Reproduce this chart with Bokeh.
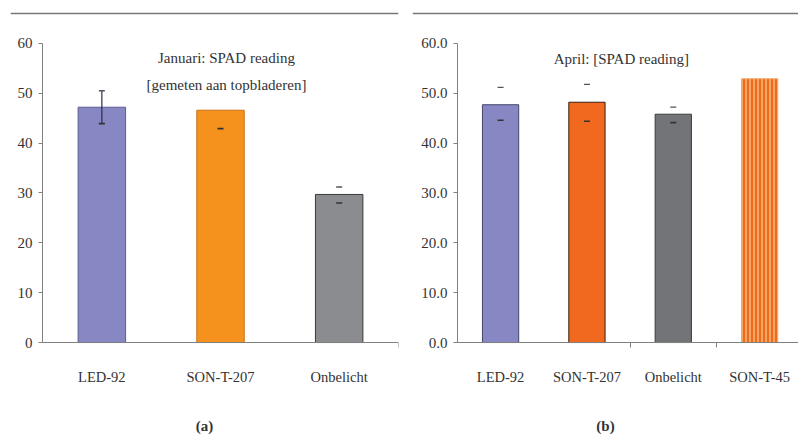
from bokeh.plotting import figure
from bokeh.models import (ColumnDataSource, Range1d, LinearAxis, FixedTicker, Span, Label,
                          PrintfTickFormatter, BasicTickFormatter)
from bokeh.layouts import row
from bokeh.embed import file_html
from bokeh.resources import INLINE

nan = float("nan")

# ---------------- data ----------------
jan_categories = ["LED-92", "SON-T-207", "Onbelicht"]
jan_values = [47.2, 46.6, 29.7]
jan_err_low = [43.9, 42.9, 28.0]
jan_err_high = [50.5, nan, 31.2]

apr_categories = ["LED-92", "SON-T-207", "Onbelicht", "SON-T-45"]
apr_values = [47.7, 48.2, 45.8, 52.9]
apr_err_low = [44.6, 44.4, 44.1, nan]
apr_err_high = [51.2, 51.8, 47.2, nan]

y_ticks = [0, 10, 20, 30, 40, 50, 60]

jan_title = ["Januari: SPAD reading", "[gemeten aan topbladeren]"]
apr_title = ["April:  [SPAD reading]"]
panel_labels = ["(a)", "(b)"]

# ---------------- styles ----------------
jan_fill = ["#8787c4", "#f5921e", "#8b8c90"]
jan_line = ["#5c5c94", "#c8741a", "#3a3a3a"]
apr_fill = ["#8787c4", "#f0691e", "#727478", "#f5a565"]
apr_line = ["#44446a", "#3a2010", "#3a3a3a", "#f5a565"]
apr_hatch = [" ", " ", " ", "|"]

FONT = "Liberation Serif"
TXT = "#333333"
AXC = "#808080"
H = 437


def make_panel(width, x_start, x_end, bl, br, cats, vals, lo, hi, fills, lines, hatch,
               bar_w, fmt, boundary_ticks, titles, title_x, title_y, plabel,
               whisker_idx):
    p = figure(width=width, height=H, x_range=Range1d(x_start, x_end),
               y_range=Range1d(-2.2, 66.4), output_backend="svg", toolbar_location=None,
               x_axis_location=None, y_axis_location=None,
               min_border_left=bl, min_border_right=br, min_border_top=11,
               min_border_bottom=84)
    p.grid.grid_line_color = None
    p.outline_line_color = None
    p.background_fill_color = "white"
    p.border_fill_color = "white"

    xs = list(range(1, len(cats) + 1))
    src = ColumnDataSource(dict(x=xs, top=vals, fill=fills, line=lines, hatch=hatch,
                                lo=lo, hi=hi))
    p.vbar(x="x", top="top", bottom=0, width=bar_w, source=src, fill_color="fill",
           line_color="line", line_width=1, hatch_pattern="hatch",
           hatch_color="#ee6412", hatch_scale=4, hatch_weight=1.8)

    for i in whisker_idx:
        p.segment(x0=[xs[i]], y0=[lo[i]], x1=[xs[i]], y1=[hi[i]],
                  line_color="#2a2a50", line_width=1.2)
    p.scatter(x="x", y="lo", source=src, marker="dash", size=6, line_color="#333333",
              line_width=1.6)
    p.scatter(x="x", y="hi", source=src, marker="dash", size=6, line_color="#555555",
              line_width=1.3)

    p.add_layout(Span(location=66.0, dimension="width", line_color="#777777",
                      line_width=1.6))

    yaxis = LinearAxis(fixed_location=0.5, ticker=FixedTicker(ticks=y_ticks),
                       bounds=(0, 60), formatter=fmt,
                       major_tick_out=4, major_tick_in=0,
                       minor_tick_out=0, minor_tick_in=0,
                       axis_line_color=AXC, major_tick_line_color=AXC,
                       major_label_text_font=FONT, major_label_text_font_size="15px",
                       major_label_text_color=TXT, major_label_standoff=6)
    p.add_layout(yaxis, "left")

    xaxis_t = LinearAxis(fixed_location=0, ticker=FixedTicker(ticks=boundary_ticks),
                         bounds=(0.5, len(cats) + 0.5),
                         major_tick_out=5, major_tick_in=0,
                         minor_tick_out=0, minor_tick_in=0,
                         axis_line_color=AXC, axis_line_width=1.2,
                         major_tick_line_color=AXC,
                         major_label_text_alpha=0, major_label_text_font_size="1px")
    p.add_layout(xaxis_t, "below")

    xaxis_l = LinearAxis(ticker=FixedTicker(ticks=xs),
                         major_label_overrides={x: c for x, c in zip(xs, cats)},
                         axis_line_color=None, major_tick_line_color=None,
                         minor_tick_line_color=None,
                         major_label_text_font=FONT, major_label_text_font_size="14.5px",
                         major_label_text_color=TXT, major_label_standoff=9,
                         axis_label=plabel, axis_label_standoff=30,
                         axis_label_text_font=FONT, axis_label_text_font_style="bold",
                         axis_label_text_font_size="15px", axis_label_text_color=TXT)
    p.add_layout(xaxis_l, "below")

    for t, ty in zip(titles, title_y):
        p.add_layout(Label(x=title_x, y=ty, text=t, text_align="center",
                           text_baseline="middle", text_font=FONT,
                           text_font_size="15px", text_color=TXT))
    return p


p1 = make_panel(405, 0.23, 3.5, 10, 7, jan_categories, jan_values, jan_err_low,
                jan_err_high, jan_fill, jan_line, [" "] * 3, 0.40,
                BasicTickFormatter(), [3.5], jan_title, 2.05, [57.0, 51.7],
                panel_labels[0], [0])
p2 = make_panel(393, -0.02, 4.45, 7, 0, apr_categories, apr_values, apr_err_low,
                apr_err_high, apr_fill, apr_line, apr_hatch, 0.42,
                PrintfTickFormatter(format="%.1f"), [2.5, 3.5], apr_title, 2.42, [56.8],
                panel_labels[1], [])

layout = row(p1, p2)
open("out.html", "w").write(file_html(layout, INLINE))
